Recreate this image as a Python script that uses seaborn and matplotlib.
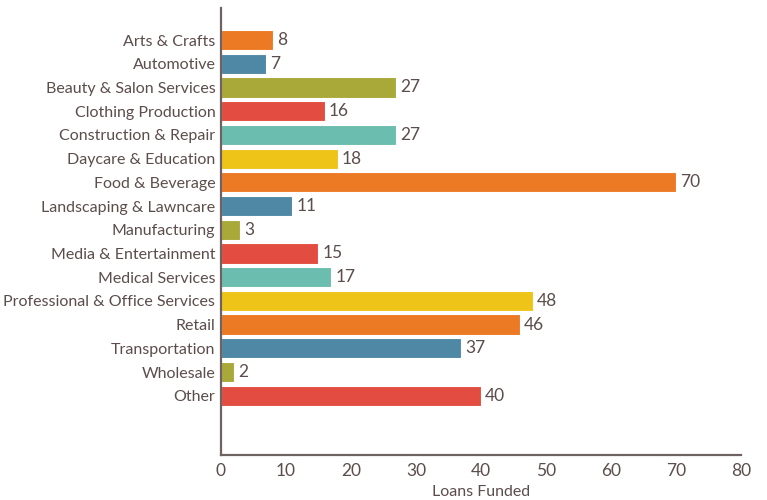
import matplotlib.pyplot as plt
import seaborn as sns
import pandas as pd

categories = [
    "Arts & Crafts", "Automotive", "Beauty & Salon Services",
    "Clothing Production", "Construction & Repair", "Daycare & Education",
    "Food & Beverage", "Landscaping & Lawncare", "Manufacturing",
    "Media & Entertainment", "Medical Services",
    "Professional & Office Services", "Retail", "Transportation",
    "Wholesale", "Other",
]
loans = [8, 7, 27, 16, 27, 18, 70, 11, 3, 15, 17, 48, 46, 37, 2, 40]
x_ticks = [0, 10, 20, 30, 40, 50, 60, 70, 80]

cycle = ["#EC7A24", "#4E88A4", "#A9A93A", "#E34C40", "#6BBDAF", "#EFC419"]
text_color = "#5B4D4A"
axis_color = "#6E6360"

df = pd.DataFrame({"category": categories, "loans": loans})
palette = {c: cycle[i % len(cycle)] for i, c in enumerate(categories)}

sns.set_style("white")
plt.rcParams["font.family"] = ["Lato", "DejaVu Sans"]

fig = plt.figure(figsize=(7.67, 5.0), dpi=100)
ax = fig.add_axes([0.288, 0.09, 0.678, 0.894])

sns.barplot(data=df, x="loans", y="category", hue="category",
            palette=palette, order=categories, legend=False,
            saturation=1, width=0.85, edgecolor="white", linewidth=0.8,
            ax=ax)

for i, v in enumerate(loans):
    ax.text(v + 0.6, i, str(v), va="center", ha="left",
            fontsize=12.5, color=text_color)

ax.set_xlim(0, 80)
ax.set_ylim(17.5, -1.35)
ax.set_xticks(x_ticks)
ax.set_xlabel("Loans Funded", fontsize=11.5, color=text_color)
ax.set_ylabel("")
ax.tick_params(axis="y", length=0, colors=text_color, labelsize=11.5, pad=4)
ax.tick_params(axis="x", length=0, colors=text_color, labelsize=12.5, pad=6)

for side in ["top", "right"]:
    ax.spines[side].set_visible(False)
for side in ["left", "bottom"]:
    ax.spines[side].set_color(axis_color)
    ax.spines[side].set_linewidth(1.6)

fig.savefig("out.png", dpi=100)
